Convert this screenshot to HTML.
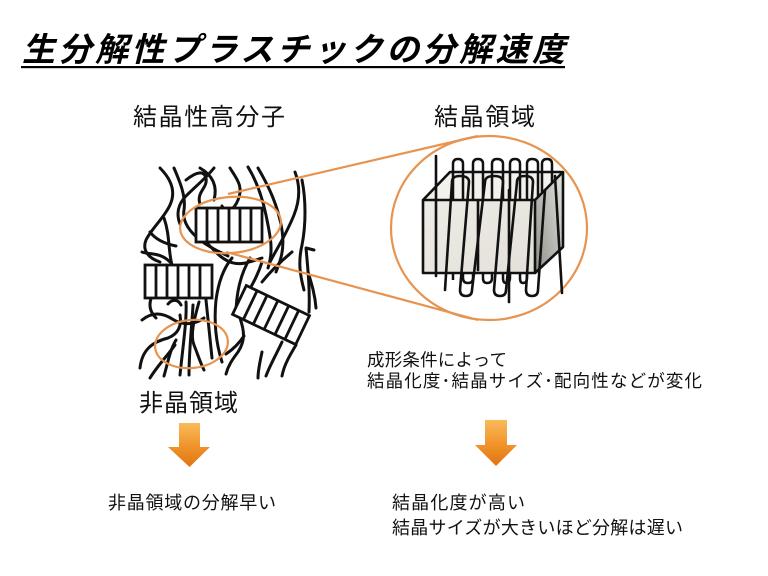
<!DOCTYPE html>
<html>
<head>
<meta charset="utf-8">
<style>
html,body{margin:0;padding:0;background:#fff;}
svg{display:block;}
text{font-family:"Liberation Sans","Noto Sans CJK JP",sans-serif;fill:#111;}
</style>
</head>
<body>
<svg width="768" height="576" viewBox="0 0 768 576" xmlns="http://www.w3.org/2000/svg">
<defs>
  <linearGradient id="arr" x1="0" y1="0" x2="0" y2="1">
    <stop offset="0" stop-color="#f9bb58"/>
    <stop offset="0.55" stop-color="#f0922a"/>
    <stop offset="1" stop-color="#de7510"/>
  </linearGradient>
  <linearGradient id="side" x1="0" y1="1" x2="1" y2="0">
    <stop offset="0" stop-color="#8f8f8a"/>
    <stop offset="1" stop-color="#e4e4e0"/>
  </linearGradient>
  <linearGradient id="front" x1="0" y1="0" x2="1" y2="1">
    <stop offset="0" stop-color="#eeece6"/>
    <stop offset="1" stop-color="#e2e0d8"/>
  </linearGradient>
</defs>

<!-- Title -->
<text x="22" y="61" font-size="33" font-weight="bold" font-style="italic" textLength="543" lengthAdjust="spacing" style="fill:#000">生分解性プラスチックの分解速度</text>
<rect x="21" y="66" width="544" height="2.2" fill="#000"/>

<!-- Headings -->
<text x="133" y="125" font-size="24" textLength="152" lengthAdjust="spacing">結晶性高分子</text>
<text x="434" y="125" font-size="24" textLength="101" lengthAdjust="spacing">結晶領域</text>
<text x="139" y="411" font-size="24" textLength="99" lengthAdjust="spacing">非晶領域</text>

<!-- Tangled chains -->
<g fill="none" stroke="#111" stroke-width="3" stroke-linecap="round" stroke-linejoin="round">
  <path d="M160,168 C172,180 176,192 170,205 C164,218 152,228 146,240 C142,250 148,258 160,262"/>
  <path d="M174,168 C180,182 186,196 184,210 C182,222 190,232 200,240 C210,248 220,252 228,256"/>
  <path d="M186,180 C196,172 204,170 206,178 C208,188 196,192 200,204"/>
  <path d="M200,168 C212,175 218,185 214,200"/>
  <path d="M214,168 C206,178 196,186 186,196 C178,204 176,214 180,224"/>
  <path d="M230,168 C236,178 244,186 238,200 C234,210 226,214 222,206"/>
  <path d="M248,167 C256,180 262,196 266,215 C270,235 274,250 268,268"/>
  <path d="M258,168 C268,185 278,205 282,230 C285,250 280,262 276,272"/>
  <path d="M295,172 C300,185 300,200 294,215 C286,235 276,250 270,262"/>
  <path d="M302,180 C306,200 306,225 302,245 C298,262 300,275 304,290"/>
  <path d="M314,250 L306,248 C308,270 310,290 309,312"/>
  <path d="M142,252 C150,255 160,252 170,262"/>
  <path d="M164,218 C170,235 168,250 172,265"/>
  <path d="M150,232 C156,240 166,244 176,246"/>
  <path d="M206,242 C214,250 220,258 230,262 C240,266 250,262 262,258"/>
  <path d="M232,258 C222,270 218,285 216,300 C214,320 215,340 222,362"/>
  <path d="M250,258 C240,275 236,295 236,315"/>
  <path d="M262,262 C258,275 252,285 245,298"/>
  <path d="M292,252 C280,262 270,272 262,282"/>
  <path d="M168,304 C172,299 178,299 181,305"/>
  <path d="M142,320 C152,312 162,312 174,320 C184,326 196,324 204,318"/>
  <path d="M140,368 C142,350 152,342 168,338 C178,334 182,326 180,315"/>
  <path d="M186,302 C187,320 183,345 180,375"/>
  <path d="M193,305 C192,325 189,350 189,375"/>
  <path d="M199,302 C194,320 190,335 194,345 C198,355 200,362 204,370"/>
  <path d="M206,300 C208,320 210,340 212,358"/>
  <path d="M150,378 C158,365 168,355 175,345"/>
  <path d="M226,354 C232,350 238,345 244,336"/>
  <path d="M282,342 C276,355 270,365 266,376"/>
  <path d="M262,352 C260,362 258,370 258,378"/>
  <path d="M308,272 C312,285 315,295 316,308"/>
  <path d="M296,345 C290,355 284,365 282,376"/>
  <path d="M240,318 C244,330 246,340 238,352 C232,360 228,366 226,374"/>
  <path d="M152,296 C148,305 150,312 156,318"/>
  <path d="M164,376 C168,362 170,350 176,340"/>
</g>

<!-- Crystal rectangles -->
<g fill="#fff" stroke="#111" stroke-width="2.8">
  <rect x="196" y="208" width="66" height="34"/>
  <path d="M207,208V242M218,208V242M229,208V242M240,208V242M251,208V242" fill="none"/>
  <rect x="145" y="265" width="67" height="33"/>
  <path d="M156,265V298M167,265V298M178,265V298M189,265V298M200,265V298" fill="none"/>
  <g transform="translate(271,315) rotate(25.5)">
    <rect x="-35" y="-16" width="70" height="32"/>
    <path d="M-23,-16V16M-12,-16V16M0,-16V16M12,-16V16M23,-16V16" fill="none"/>
  </g>
</g>

<!-- Orange ellipses and connector lines -->
<g fill="none" stroke="#e6944f" stroke-width="2.2">
  <ellipse cx="230.5" cy="225" rx="50.5" ry="28" transform="rotate(-5 230.5 225)"/>
  <ellipse cx="191.5" cy="344" rx="36.5" ry="24" transform="rotate(-6 191.5 344)"/>
  <path d="M228,194 L478,136"/>
  <path d="M226,252 L478,320"/>
  <ellipse cx="489" cy="228" rx="98" ry="92"/>
</g>

<!-- Crystal box -->
<polygon points="423,200 450,172 563,172 535,200" fill="#f2f1ec"/>
<path d="M453,280 L453,164 Q453,159 458,159 Q463,159 463,164 L463,278 Q463,283 468,283 Q473,283 473,278 L473,164 Q473,159 478,159 Q483,159 483,164 L483,278 Q483,283 487,283 Q492,283 492,278 L492,164 Q492,159 497,159 Q503,159 503,164 L503,278 Q503,283 506,283 Q510,283 510,278 L510,164 Q510,159 515,159 Q520,159 520,164 L520,278 Q520,283 523,283 Q527,283 527,278 L527,164 Q527,159 532,159 Q538,159 538,164 L538,240 M542,240 L542,164 Q542,159 547,159 Q552,159 552,164 L552,220" fill="none" stroke="#111" stroke-width="2.5"/>
<rect x="423" y="200" width="112" height="73" fill="url(#front)"/>
<polygon points="535,200 563,172 563,247 535,273" fill="url(#side)"/>
<g fill="none" stroke="#111" stroke-width="2.6" stroke-linejoin="round">
  <rect x="423" y="200" width="112" height="73"/>
  <polyline points="423,200 450,172 563,172 535,200"/>
  <polyline points="563,172 563,247 535,273"/>
</g>
<g fill="none" stroke="#111" stroke-width="2.6" stroke-linecap="round">
  <path d="M436,156 L436,276"/>
  <path d="M445,290 L452,182 Q452,176 460,176 Q469,176 469,182 L460,290 Q460,296 466,296 Q472,296 472,290 L485,182 Q485,176 494,176 Q503,176 503,182 L494,290 Q494,296 500,296 Q506,296 506,290 L517,182 Q517,176 525,176 Q533,176 533,182 L526,290 Q526,296 532,296 Q538,296 538,290 L545,190"/>
  <path d="M555,176 L562,293"/>
  <path d="M509,190 L509,302"/>
  <path d="M478,200 L478,270"/>
</g>

<!-- Middle text -->
<text x="367" y="366" font-size="17.5" textLength="140" lengthAdjust="spacing">成形条件によって</text>
<text x="367" y="387" font-size="17.5" textLength="335" lengthAdjust="spacing">結晶化度･結晶サイズ･配向性などが変化</text>

<!-- Arrows -->
<path d="M179,423 L200,423 L200,447 L210,447 L189.5,467 L168,447 L179,447 Z" fill="url(#arr)"/>
<path d="M485,420 L507,420 L507,445 L517,445 L496,466 L475,445 L485,445 Z" fill="url(#arr)"/>

<!-- Bottom text -->
<text x="108" y="509" font-size="18" textLength="168" lengthAdjust="spacing">非晶領域の分解早い</text>
<text x="392" y="509" font-size="18" textLength="133" lengthAdjust="spacing">結晶化度が高い</text>
<text x="392" y="534" font-size="18" textLength="291" lengthAdjust="spacing">結晶サイズが大きいほど分解は遅い</text>
</svg>
</body>
</html>
